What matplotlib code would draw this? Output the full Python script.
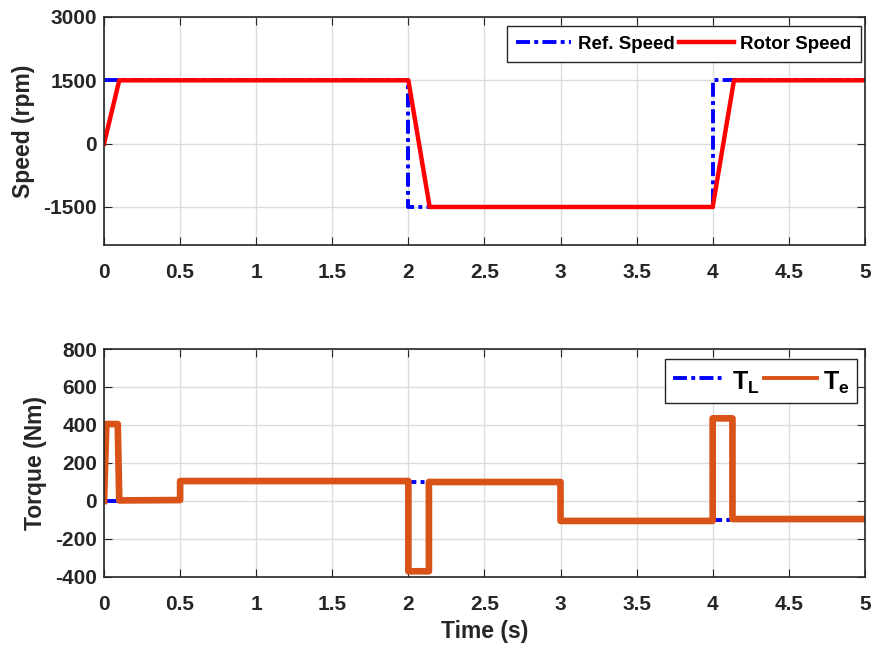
import matplotlib
matplotlib.use("Agg")
import matplotlib.pyplot as plt
import numpy as np

# speed reference and rotor speed (rpm), breakpoints of the piecewise traces
t_ref = [0, 2.0, 2.0, 4.0, 4.0, 5.0]
w_ref = [1500, 1500, -1500, -1500, 1500, 1500]
t_rot = [0, 0.1, 2.0, 2.14, 4.0, 4.14, 5.0]
w_rot = [0, 1500, 1500, -1500, -1500, 1500, 1500]

# load torque and electromagnetic torque (Nm)
t_load = [0, 0.5, 0.5, 3.0, 3.0, 5.0]
T_load = [0, 0, 100, 100, -100, -100]
t_te = [0, 0.015, 0.09, 0.1, 0.5, 0.5, 2.0, 2.0, 2.135, 2.135, 3.0, 3.0,
        4.0, 4.0, 4.13, 4.13, 5.0]
T_e = [0, 405, 405, 3, 5, 105, 105, -370, -370, 100, 100, -105,
       -105, 435, 435, -95, -95]

xticks = np.arange(0, 5.01, 0.5)
xticklabels = ["0", "0.5", "1", "1.5", "2", "2.5", "3", "3.5", "4", "4.5", "5"]

plt.rcParams["font.family"] = ["Liberation Sans", "DejaVu Sans"]
plt.rcParams["font.weight"] = "bold"
plt.rcParams["axes.unicode_minus"] = False
plt.rcParams["mathtext.fontset"] = "custom"
plt.rcParams["mathtext.rm"] = "Liberation Sans:bold"
plt.rcParams["mathtext.bf"] = "Liberation Sans:bold"
plt.rcParams["mathtext.it"] = "Liberation Sans:bold"
dark = "#262626"

fig = plt.figure(figsize=(8.78, 6.51), dpi=100)
ax1 = fig.add_axes([0.1185, 0.6237, 0.8665, 0.3502])
ax2 = fig.add_axes([0.1185, 0.1137, 0.8665, 0.3502])

dashdot = (0, (3.6, 1.1, 1.0, 1.1))

ax1.plot(t_ref, w_ref, color="#0000ff", lw=2.8, ls=dashdot, label="Ref. Speed")
ax1.plot(t_rot, w_rot, color="#ff0000", lw=3.2, label="Rotor Speed")
ax1.set_ylim(-2400, 3000)
ax1.set_yticks([-1500, 0, 1500, 3000])
ax1.set_ylabel("Speed (rpm)", fontsize=16.5, fontweight="bold", color=dark,
               labelpad=6)
leg1 = ax1.legend(loc="upper right", ncol=2, fontsize=13.5, fancybox=False,
                  handlelength=2.95, handletextpad=0.35, columnspacing=0.2,
                  borderpad=0.5, borderaxespad=0.0, framealpha=1,
                  bbox_to_anchor=(0.995, 0.96))

ax2.plot(t_load, T_load, color="#0000ff", lw=2.8, ls=dashdot, label=r"$\mathrm{T_L}$")
ax2.plot(t_te, T_e, color="#d95319", lw=4.8, label=r"$\mathrm{T_e}$")
ax2.set_ylim(-400, 800)
ax2.set_yticks(np.arange(-400, 801, 200))
ax2.set_ylabel("Torque (Nm)", fontsize=16.5, fontweight="bold", color=dark,
               labelpad=6)
ax2.set_xlabel("Time (s)", fontsize=16.5, fontweight="bold", color=dark,
               labelpad=4)
leg2 = ax2.legend(loc="upper right", ncol=2, fontsize=18, fancybox=False,
                  handlelength=2.1, handletextpad=0.25, columnspacing=0.2,
                  handleheight=1.4, borderpad=0.3, borderaxespad=0.0,
                  framealpha=1, bbox_to_anchor=(0.99, 0.955))
for h in leg2.legend_handles:
    h.set_linewidth(2.8)

for ax, leg in ((ax1, leg1), (ax2, leg2)):
    ax.set_xlim(0, 5)
    ax.set_xticks(xticks)
    ax.set_xticklabels(xticklabels)
    ax.grid(True, color="#dcdcdc", lw=1)
    ax.set_axisbelow(True)
    ax.tick_params(direction="in", top=True, right=True, length=6,
                   labelsize=15, colors=dark)
    ax.tick_params(axis="x", pad=13)
    ax.tick_params(axis="y", pad=5)
    for lab in ax.get_xticklabels() + ax.get_yticklabels():
        lab.set_fontweight("bold")
    for sp in ax.spines.values():
        sp.set_color(dark)
        sp.set_linewidth(1.2)
    leg.get_frame().set_edgecolor(dark)
    leg.get_frame().set_linewidth(1.0)
    for txt in leg.get_texts():
        txt.set_fontweight("bold")

fig.savefig("out.png", dpi=100)
